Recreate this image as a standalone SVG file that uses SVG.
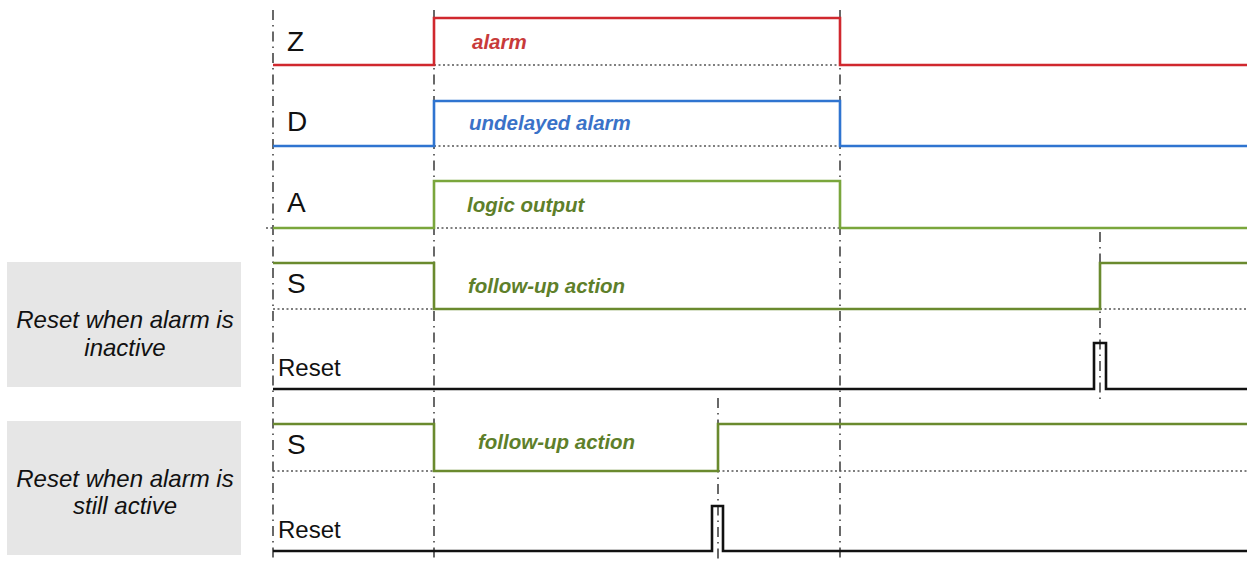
<svg xmlns="http://www.w3.org/2000/svg" width="1254" height="561" viewBox="0 0 1254 561">
<style>
.grid{stroke:#444;stroke-width:1.6;fill:none;stroke-dasharray:10 5 1.5 5}
.base{stroke:#555;stroke-width:1.6;fill:none;stroke-dasharray:2 2.5}
.sig{fill:none;stroke-width:2.6;stroke-linejoin:miter}
.lbl{font-family:"Liberation Sans",Arial,sans-serif;font-size:28px;fill:#111}
.rlbl{font-family:"Liberation Sans",Arial,sans-serif;font-size:24px;fill:#111}
.ann{font-family:"Liberation Sans",Arial,sans-serif;font-size:20.5px;font-weight:bold;font-style:italic}
.box{fill:#e6e6e6}
.boxt{font-family:"Liberation Sans",Arial,sans-serif;font-size:24px;font-style:italic;fill:#111;text-anchor:middle}
</style>
<rect width="1254" height="561" fill="#fff"/>
<g id="connectors">
<line class="grid" x1="273" y1="10" x2="273" y2="561"/>
<line class="grid" x1="434" y1="10" x2="434" y2="561"/>
<line class="grid" x1="840" y1="10" x2="840" y2="561"/>
<line class="grid" x1="1100" y1="232" x2="1100" y2="402"/>
<line class="grid" x1="718" y1="398" x2="718" y2="561"/>
<line class="base" x1="434" y1="65" x2="840" y2="65"/>
<line class="base" x1="434" y1="146" x2="840" y2="146"/>
<line class="base" x1="266" y1="228" x2="840" y2="228"/>
<line class="base" x1="273" y1="309" x2="434" y2="309"/>
<line class="base" x1="1100" y1="309" x2="1247" y2="309"/>
<line class="base" x1="273" y1="471" x2="434" y2="471"/>
<line class="base" x1="718" y1="471" x2="1247" y2="471"/>
</g>
<g id="box1"><rect class="box" x="7" y="262" width="234" height="125"/><text class="boxt" x="125" y="328">Reset when alarm is</text><text class="boxt" x="125" y="356">inactive</text></g>
<g id="box2"><rect class="box" x="7" y="421" width="234" height="134"/><text class="boxt" x="125" y="487">Reset when alarm is</text><text class="boxt" x="125" y="514">still active</text></g>
<g id="Z"><polyline class="sig" stroke="#d0282e" points="273,65 434,65 434,18 840,18 840,65 1247,65"/><text class="lbl" x="287" y="51">Z</text><text class="ann" fill="#c83a3a" x="472" y="49">alarm</text></g>
<g id="D"><polyline class="sig" stroke="#2f74d0" points="273,146 434,146 434,101 840,101 840,146 1247,146"/><text class="lbl" x="287" y="131">D</text><text class="ann" fill="#3a72c8" x="469" y="130">undelayed alarm</text></g>
<g id="A"><polyline class="sig" stroke="#7aa63c" points="273,228 434,228 434,181 840,181 840,228 1247,228"/><text class="lbl" x="287" y="212">A</text><text class="ann" fill="#5e7f2a" x="467" y="212">logic output</text></g>
<g id="S1"><polyline class="sig" stroke="#6a8a2e" points="273,263 434,263 434,309 1100,309 1100,263 1247,263"/><text class="lbl" x="287" y="293">S</text><text class="ann" fill="#5e7f2a" x="468" y="293">follow-up action</text></g>
<g id="Reset1"><polyline class="sig" stroke="#111" points="273,389 1094,389 1094,343 1106,343 1106,389 1247,389"/><text class="rlbl" x="278" y="376">Reset</text></g>
<g id="S2"><polyline class="sig" stroke="#6a8a2e" points="273,424 434,424 434,471 718,471 718,424 1247,424"/><text class="lbl" x="287" y="454">S</text><text class="ann" fill="#5e7f2a" x="478" y="449">follow-up action</text></g>
<g id="Reset2"><polyline class="sig" stroke="#111" points="273,551 712,551 712,506 723,506 723,551 1247,551"/><text class="rlbl" x="278" y="538">Reset</text></g>
</svg>
